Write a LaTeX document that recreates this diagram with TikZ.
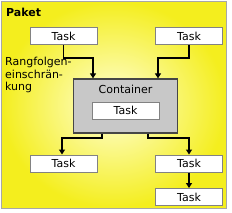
\documentclass[tikz,border=0pt]{standalone}
\usepackage{fontspec}
\setmainfont{DejaVu Sans}
\usetikzlibrary{arrows.meta}
\definecolor{edgeyellow}{RGB}{244,238,30}
\definecolor{centeryellow}{RGB}{255,255,215}
\definecolor{boxgray}{RGB}{130,130,130}
\definecolor{contgray}{RGB}{200,200,200}
\definecolor{contborder}{RGB}{70,70,70}
\tikzset{
  taskbox/.style={draw=boxgray, line width=1pt, fill=white, minimum width=67pt, minimum height=17pt, inner sep=0pt, font=\fontsize{11}{12}\selectfont},
  flow/.style={draw=black, line width=1.3pt, -{Triangle[length=5pt,width=6pt]}},
  lbl/.style={font=\fontsize{11}{12.5}\selectfont, inner sep=0pt}
}
\begin{document}
\begin{tikzpicture}[x=1pt,y=-1pt]
\useasboundingbox (0,0) rectangle (232,212);
\shade[inner color=centeryellow, outer color=edgeyellow] (1,1) rectangle (226,208);
\draw[draw=boxgray!70, line width=0.8pt] (1,1) rectangle (226,208);
\node[anchor=west, font=\bfseries\fontsize{11}{12}\selectfont, inner sep=0pt] (paket) at (6,12) {Paket};
\node[taskbox] (t1) at (63.5,36) {Task};
\node[taskbox] (t2) at (189,36) {Task};
\node[draw=contborder, line width=1.3pt, fill=contgray, minimum width=104pt, minimum height=54pt, inner sep=0pt] (cont) at (125.5,106) {};
\node[lbl] (contlbl) at (125.5,89) {Container};
\node[taskbox] (t3) at (125.5,110.5) {Task};
\node[taskbox] (t4) at (63.5,163.5) {Task};
\node[taskbox] (t5) at (189,163.5) {Task};
\node[taskbox] (t6) at (189,197) {Task};
\node[lbl, anchor=north west, align=left] (rang) at (5,57) {Rangfolgen-\\einschrän-\\kung};
\draw[flow] (t1.south) |- (93,58) -- (cont.north -| 93,0);
\draw[flow] (t2.south) |- (158,58) -- (cont.north -| 158,0);
\draw[flow] (cont.south -| 102,0) |- (62,138) -- (t4.north -| 62,0);
\draw[flow] (cont.south -| 148,0) |- (189,138) -- (t5.north);
\draw[flow] (t5.south) -- (t6.north);
\end{tikzpicture}
\end{document}
